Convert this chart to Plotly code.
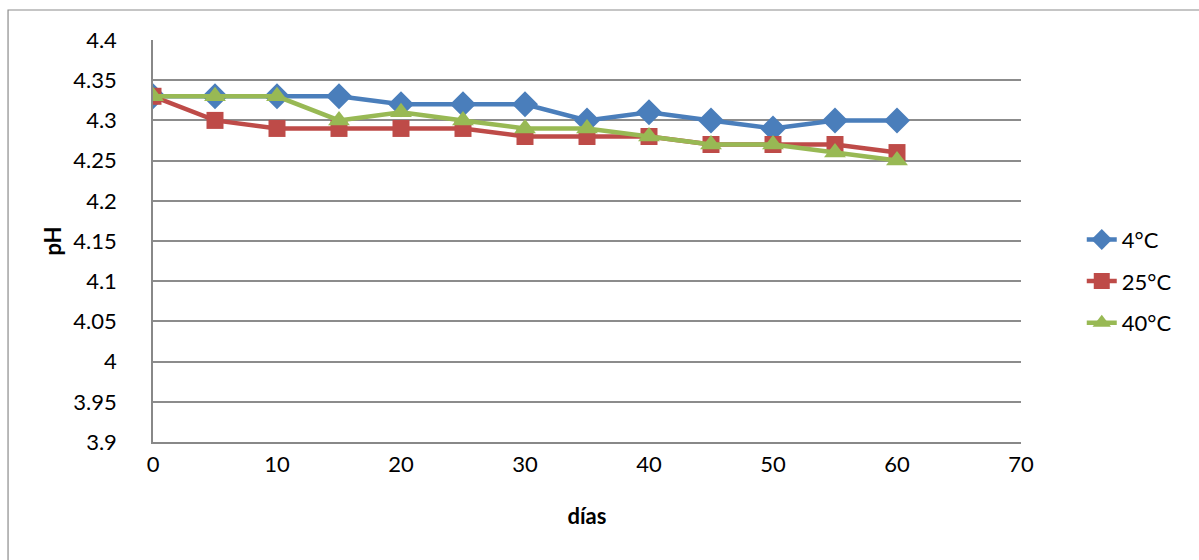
import plotly.graph_objects as go

# Storage time in days
dias = [0, 5, 10, 15, 20, 25, 30, 35, 40, 45, 50, 55, 60]

# pH measured at each storage temperature
ph_4c = [4.33, 4.33, 4.33, 4.33, 4.32, 4.32, 4.32, 4.30, 4.31, 4.30, 4.29, 4.30, 4.30]
ph_25c = [4.33, 4.30, 4.29, 4.29, 4.29, 4.29, 4.28, 4.28, 4.28, 4.27, 4.27, 4.27, 4.26]
ph_40c = [4.33, 4.33, 4.33, 4.30, 4.31, 4.30, 4.29, 4.29, 4.28, 4.27, 4.27, 4.26, 4.25]

y_ticks = [3.9, 3.95, 4, 4.05, 4.1, 4.15, 4.2, 4.25, 4.3, 4.35, 4.4]
y_tick_text = ["3.9", "3.95", "4", "4.05", "4.1", "4.15", "4.2", "4.25", "4.3", "4.35", "4.4"]
x_ticks = [0, 10, 20, 30, 40, 50, 60, 70]

FONT = "Lato, Open Sans, sans-serif"
FS = 22

series = [
    ("4°C", ph_4c, "#4A7EBB", "diamond", 20),
    ("25°C", ph_25c, "#BE4B48", "square", 17),
    ("40°C", ph_40c, "#98B954", "triangle-up", 19),
]

fig = go.Figure()
for name, vals, color, symbol, size in series:
    fig.add_trace(go.Scatter(
        x=dias, y=vals, name=name, mode="lines+markers", legendgroup=name,
        line=dict(color=color, width=4.5),
        marker=dict(symbol=symbol, size=size, color=color),
    ))

fig.update_layout(
    width=1199, height=560,
    margin=dict(l=153, r=178, t=40, b=118, autoexpand=False),
    paper_bgcolor="white", plot_bgcolor="white",
    font=dict(family=FONT, size=FS, color="#000000"),
    showlegend=True,
    legend=dict(x=1.07, y=0.40, xanchor="left", yanchor="middle",
                font=dict(size=FS), tracegroupgap=10, itemsizing="trace",
                bgcolor="rgba(0,0,0,0)"),
    xaxis=dict(
        range=[0, 70], tickvals=x_ticks, showgrid=False,
        showline=True, linecolor="#888888", linewidth=1.5,
        zeroline=False, ticks="", ticklen=0, ticklabelstandoff=2,
        title=dict(text="<b>días</b>", font=dict(size=FS), standoff=32),
    ),
    yaxis=dict(
        range=[3.9, 4.4], tickvals=y_ticks, ticktext=y_tick_text,
        showgrid=True, gridcolor="#8C8C8C", gridwidth=1.5,
        showline=True, linecolor="#888888", linewidth=1.5,
        zeroline=False, ticks="", ticklen=0, ticklabelstandoff=30,
        title=dict(text="<b>pH</b>", font=dict(size=FS), standoff=6),
    ),
    shapes=[
        dict(type="rect", xref="paper", yref="paper",
             x0=-0.167, y0=-0.35, x1=1.25, y1=1.0746,
             line=dict(color="#8C8C8C", width=1.2), layer="below"),
    ],
)

fig.write_html("out.html")
